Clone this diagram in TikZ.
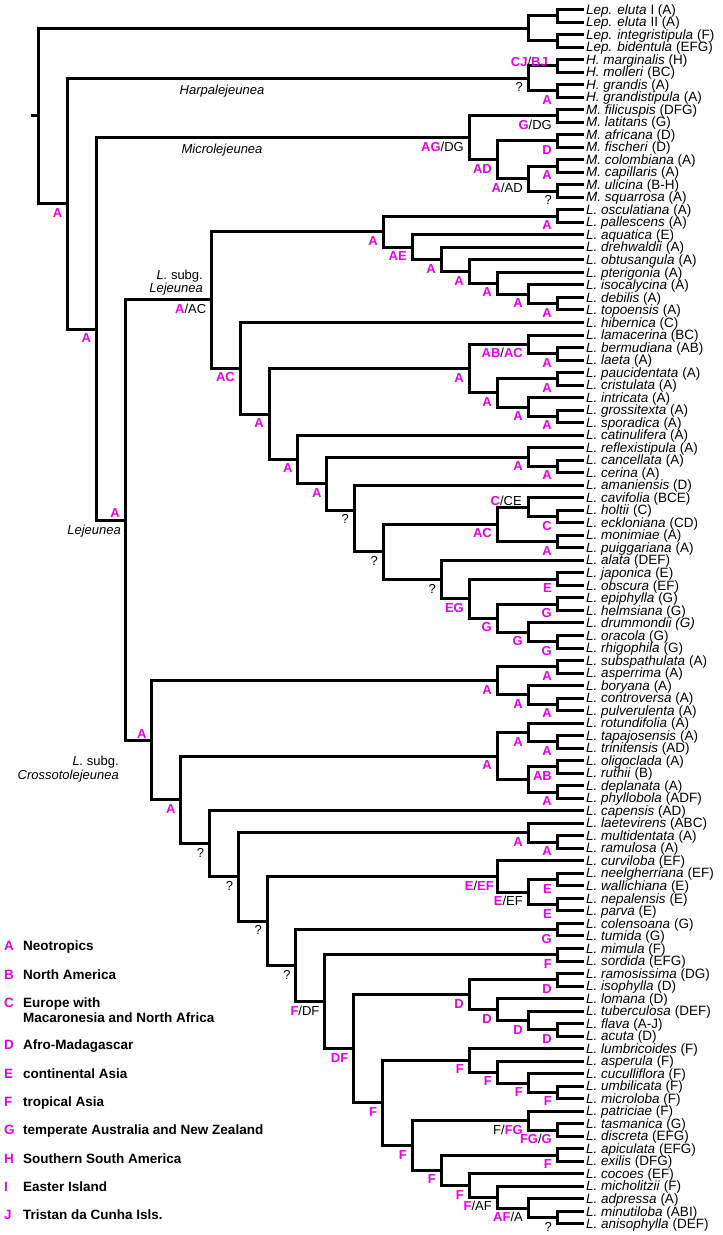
\documentclass[tikz,border=0pt]{standalone}
\usepackage{fontspec}
\setmainfont{Liberation Sans}
\usetikzlibrary{calc}
\definecolor{mag}{RGB}{232,0,232}
\newcommand\mg[1]{\textcolor{mag}{\textbf{#1}}}
\newcommand\tx[2]{\textit{#1} (#2)}
\tikzset{
  br/.style={line width=3pt, line join=miter, line cap=butt},
  leaflab/.style={anchor=base west, inner sep=0pt, font=\fontsize{13.5}{14}\selectfont},
  nlab/.style={anchor=base east, inner sep=0pt, font=\fontsize{13}{14}\selectfont},
  txlab/.style={inner sep=0pt, font=\fontsize{13}{14}\selectfont},
  legl/.style={anchor=base west, inner sep=0pt, font=\fontsize{13.5}{14}\selectfont\bfseries}
}
\newcommand\leaf[2]{\coordinate (t#1) at (584,{9.5+(#1-1)*12.52});
  \node[leaflab] (n#1) at ([shift={(2pt,-4.6pt)}]t#1) {#2};}
\newcommand\mkclade[4]{\coordinate (tmp) at ($(#3)!0.5!(#4)$);
  \coordinate (#1) at (#2,0 |- tmp);
  \draw[br] (#1) |- (#3); \draw[br] (#1) |- (#4);}
\newcommand\mkcladeY[5]{\coordinate (#1) at (#2,#3);
  \draw[br] (#1) |- (#4); \draw[br] (#1) |- (#5);}
\newcommand\lab[2]{\node[nlab] (L#1) at ([shift={(-5pt,-13.5pt)}]#1) {#2};}
\newcommand\labxy[4]{\node[nlab] (L#1) at ([shift={(#2pt,#3pt)}]#1) {#4};}
\begin{document}
\begin{tikzpicture}[x=1pt,y=-1pt]
\fill[white] (0,0) rectangle (723,1235);
\useasboundingbox (0,0) rectangle (723,1235);
% leaves
\leaf{1}{\textit{Lep. eluta} I (A)}
\leaf{2}{\textit{Lep. eluta} II (A)}
\leaf{3}{\tx{Lep. integristipula}{F}}
\leaf{4}{\tx{Lep. bidentula}{EFG}}
\leaf{5}{\tx{H. marginalis}{H}}
\leaf{6}{\tx{H. molleri}{BC}}
\leaf{7}{\tx{H. grandis}{A}}
\leaf{8}{\tx{H. grandistipula}{A}}
\leaf{9}{\tx{M. filicuspis}{DFG}}
\leaf{10}{\tx{M. latitans}{G}}
\leaf{11}{\tx{M. africana}{D}}
\leaf{12}{\tx{M. fischeri}{D}}
\leaf{13}{\tx{M. colombiana}{A}}
\leaf{14}{\tx{M. capillaris}{A}}
\leaf{15}{\tx{M. ulicina}{B-H}}
\leaf{16}{\tx{M. squarrosa}{A}}
\leaf{17}{\tx{L. osculatiana}{A}}
\leaf{18}{\tx{L. pallescens}{A}}
\leaf{19}{\tx{L. aquatica}{E}}
\leaf{20}{\tx{L. drehwaldii}{A}}
\leaf{21}{\tx{L. obtusangula}{A}}
\leaf{22}{\tx{L. pterigonia}{A}}
\leaf{23}{\tx{L. isocalycina}{A}}
\leaf{24}{\tx{L. debilis}{A}}
\leaf{25}{\tx{L. topoensis}{A}}
\leaf{26}{\tx{L. hibernica}{C}}
\leaf{27}{\tx{L. lamacerina}{BC}}
\leaf{28}{\tx{L. bermudiana}{AB}}
\leaf{29}{\tx{L. laeta}{A}}
\leaf{30}{\tx{L. paucidentata}{A}}
\leaf{31}{\tx{L. cristulata}{A}}
\leaf{32}{\tx{L. intricata}{A}}
\leaf{33}{\tx{L. grossitexta}{A}}
\leaf{34}{\tx{L. sporadica}{A}}
\leaf{35}{\tx{L. catinulifera}{A}}
\leaf{36}{\tx{L. reflexistipula}{A}}
\leaf{37}{\tx{L. cancellata}{A}}
\leaf{38}{\tx{L. cerina}{A}}
\leaf{39}{\tx{L. amaniensis}{D}}
\leaf{40}{\tx{L. cavifolia}{BCE}}
\leaf{41}{\tx{L. holtii}{C}}
\leaf{42}{\tx{L. eckloniana}{CD}}
\leaf{43}{\tx{L. monimiae}{A}}
\leaf{44}{\tx{L. puiggariana}{A}}
\leaf{45}{\tx{L. alata}{DEF}}
\leaf{46}{\tx{L. japonica}{E}}
\leaf{47}{\tx{L. obscura}{EF}}
\leaf{48}{\tx{L. epiphylla}{G}}
\leaf{49}{\tx{L. helmsiana}{G}}
\leaf{50}{\textit{L. drummondii (G)}}
\leaf{51}{\tx{L. oracola}{G}}
\leaf{52}{\tx{L. rhigophila}{G}}
\leaf{53}{\tx{L. subspathulata}{A}}
\leaf{54}{\tx{L. asperrima}{A}}
\leaf{55}{\tx{L. boryana}{A}}
\leaf{56}{\tx{L. controversa}{A}}
\leaf{57}{\tx{L. pulverulenta}{A}}
\leaf{58}{\tx{L. rotundifolia}{A}}
\leaf{59}{\tx{L. tapajosensis}{A}}
\leaf{60}{\tx{L. trinitensis}{AD}}
\leaf{61}{\tx{L. oligoclada}{A}}
\leaf{62}{\tx{L. ruthii}{B}}
\leaf{63}{\tx{L. deplanata}{A}}
\leaf{64}{\tx{L. phyllobola}{ADF}}
\leaf{65}{\tx{L. capensis}{AD}}
\leaf{66}{\tx{L. laetevirens}{ABC}}
\leaf{67}{\tx{L. multidentata}{A}}
\leaf{68}{\tx{L. ramulosa}{A}}
\leaf{69}{\tx{L. curviloba}{EF}}
\leaf{70}{\tx{L. neelgherriana}{EF}}
\leaf{71}{\tx{L. wallichiana}{E}}
\leaf{72}{\tx{L. nepalensis}{E}}
\leaf{73}{\tx{L. parva}{E}}
\leaf{74}{\tx{L. colensoana}{G}}
\leaf{75}{\tx{L. tumida}{G}}
\leaf{76}{\tx{L. mimula}{F}}
\leaf{77}{\tx{L. sordida}{EFG}}
\leaf{78}{\tx{L. ramosissima}{DG}}
\leaf{79}{\tx{L. isophylla}{D}}
\leaf{80}{\tx{L. lomana}{D}}
\leaf{81}{\tx{L. tuberculosa}{DEF}}
\leaf{82}{\tx{L. flava}{A-J}}
\leaf{83}{\tx{L. acuta}{D}}
\leaf{84}{\tx{L. lumbricoides}{F}}
\leaf{85}{\tx{L. asperula}{F}}
\leaf{86}{\tx{L. cuculliflora}{F}}
\leaf{87}{\tx{L. umbilicata}{F}}
\leaf{88}{\tx{L. microloba}{F}}
\leaf{89}{\tx{L. patriciae}{F}}
\leaf{90}{\tx{L. tasmanica}{G}}
\leaf{91}{\tx{L. discreta}{EFG}}
\leaf{92}{\tx{L. apiculata}{EFG}}
\leaf{93}{\tx{L. exilis}{DFG}}
\leaf{94}{\tx{L. cocoes}{EF}}
\leaf{95}{\tx{L. micholitzii}{F}}
\leaf{96}{\tx{L. adpressa}{A}}
\leaf{97}{\tx{L. minutiloba}{ABI}}
\leaf{98}{\tx{L. anisophylla}{DEF}}
% Leptolejeunea
\mkclade{lepA}{557}{t1}{t2}
\mkclade{lepB}{557}{t3}{t4}
\mkclade{lep}{528}{lepA}{lepB}
% Harpalejeunea
\mkclade{haA}{557}{t5}{t6}
\mkclade{haB}{557}{t7}{t8}
\mkclade{ha}{528}{haA}{haB}
% Microlejeunea
\mkclade{miA}{557}{t9}{t10}
\mkclade{miB}{557}{t11}{t12}
\mkclade{miC}{557}{t13}{t14}
\mkclade{miD}{557}{t15}{t16}
\mkclade{miE}{528}{miC}{miD}
\mkclade{miF}{497}{miB}{miE}
\mkclade{mi}{469}{miA}{miF}
% subg. Lejeunea
\mkclade{a1}{557}{t17}{t18}
\mkclade{a2}{557}{t24}{t25}
\mkclade{a3}{528}{t23}{a2}
\mkclade{a4}{497}{t22}{a3}
\mkclade{a5}{469}{t21}{a4}
\mkclade{a6}{441}{t20}{a5}
\mkclade{a7}{412}{t19}{a6}
\mkclade{a8}{383}{a1}{a7}
\mkclade{b1}{557}{t28}{t29}
\mkclade{b2}{528}{t27}{b1}
\mkclade{b3}{557}{t30}{t31}
\mkclade{b4}{557}{t33}{t34}
\mkclade{b5}{528}{t32}{b4}
\mkclade{b6}{497}{b3}{b5}
\mkclade{b7}{469}{b2}{b6}
\mkclade{c1}{557}{t37}{t38}
\mkclade{c2}{528}{t36}{c1}
\mkclade{d1}{557}{t41}{t42}
\mkclade{d2}{528}{t40}{d1}
\mkclade{d3}{557}{t43}{t44}
\mkclade{d4}{497}{d2}{d3}
\mkclade{e1}{557}{t46}{t47}
\mkclade{e2}{557}{t48}{t49}
\mkclade{e3}{557}{t51}{t52}
\mkclade{e4}{528}{t50}{e3}
\mkclade{e5}{497}{e2}{e4}
\mkclade{e6}{469}{e1}{e5}
\mkclade{e7}{441}{t45}{e6}
\mkclade{f6}{383}{d4}{e7}
\mkcladeY{f7}{354}{510}{t39}{f6}
\mkclade{f8}{326.6}{c2}{f7}
\mkclade{f9}{297.8}{t35}{f8}
\mkclade{f10}{269}{b7}{f9}
\mkclade{f11}{240}{t26}{f10}
\mkclade{f12}{211.4}{a8}{f11}
% subg. Crossotolejeunea
\mkclade{g1}{557}{t53}{t54}
\mkclade{g2}{557}{t56}{t57}
\mkclade{g3}{528}{t55}{g2}
\mkclade{g4}{497}{g1}{g3}
\mkclade{h1}{557}{t59}{t60}
\mkclade{h2}{528}{t58}{h1}
\mkclade{h3}{557}{t61}{t62}
\mkclade{h4}{557}{t63}{t64}
\mkclade{h5}{528}{h3}{h4}
\mkclade{h6}{497}{h2}{h5}
\mkclade{i1}{557}{t67}{t68}
\mkclade{i2}{528}{t66}{i1}
\mkclade{j1}{557}{t70}{t71}
\mkclade{j2}{557}{t72}{t73}
\mkclade{j3}{528}{j1}{j2}
\mkclade{j4}{497}{t69}{j3}
\mkclade{k1}{557}{t74}{t75}
\mkclade{k2}{557}{t76}{t77}
\mkclade{m1}{557}{t78}{t79}
\mkclade{m2}{557}{t82}{t83}
\mkclade{m3}{528}{t81}{m2}
\mkclade{m4}{497}{t80}{m3}
\mkclade{m5}{469}{m1}{m4}
\mkclade{n1}{557}{t87}{t88}
\mkclade{n2}{528}{t86}{n1}
\mkclade{n3}{497}{t85}{n2}
\mkclade{n4}{469}{t84}{n3}
\mkclade{p1}{557}{t90}{t91}
\mkclade{p2}{528}{t89}{p1}
\mkclade{p3}{557}{t92}{t93}
\mkclade{p4}{557}{t97}{t98}
\mkclade{p5}{528}{t96}{p4}
\mkclade{p6}{497}{t95}{p5}
\mkclade{p7}{469}{t94}{p6}
\mkclade{p8}{441}{p3}{p7}
\mkclade{p9}{412}{p2}{p8}
\mkclade{C8}{382.2}{n4}{p9}
\mkclade{C7}{353.4}{m5}{C8}
\mkclade{C6}{324.6}{k2}{C7}
\mkclade{C5}{295.8}{k1}{C6}
\mkclade{C4}{267}{j4}{C5}
\mkclade{C3}{238.2}{i2}{C4}
\mkclade{C2}{209.4}{t65}{C3}
\mkclade{C1}{180.6}{h6}{C2}
\mkclade{C0}{151.8}{g4}{C1}
% backbone
\mkclade{lej}{125}{f12}{C0}
\mkclade{Y}{96.2}{mi}{lej}
\mkclade{X}{67.4}{ha}{Y}
\mkclade{root}{38.6}{lep}{X}
\coordinate (rs) at (31,0 |- root);
\draw[br] (rs) -- (root);
% node labels
\labxy{haA}{-9}{-0.7}{\mg{CJ}/\mg{BJ}}
\lab{haB}{\mg{A}} \lab{ha}{?}
\lab{miA}{\mg{G}/DG} \lab{miB}{\mg{D}} \lab{miC}{\mg{A}} \lab{miD}{?}
\lab{miE}{\mg{A}/AD} \lab{miF}{\mg{AD}} \lab{mi}{\mg{AG}/DG}
\lab{a1}{\mg{A}} \lab{a2}{\mg{A}} \lab{a3}{\mg{A}} \lab{a4}{\mg{A}}
\lab{a5}{\mg{A}} \lab{a6}{\mg{A}} \lab{a7}{\mg{AE}} \lab{a8}{\mg{A}}
\lab{b1}{\mg{A}} \lab{b2}{\mg{AB}/\mg{AC}} \lab{b3}{\mg{A}} \lab{b4}{\mg{A}}
\lab{b5}{\mg{A}} \lab{b6}{\mg{A}} \lab{b7}{\mg{A}}
\lab{c1}{\mg{A}} \lab{c2}{\mg{A}}
\lab{d1}{\mg{C}} \labxy{d2}{-6}{1.4}{\mg{C}/CE} \lab{d3}{\mg{A}} \lab{d4}{\mg{AC}}
\lab{e1}{\mg{E}} \lab{e2}{\mg{G}} \lab{e3}{\mg{G}} \lab{e4}{\mg{G}}
\lab{e5}{\mg{G}} \lab{e6}{\mg{EG}} \lab{e7}{?}
\lab{f6}{?} \lab{f7}{?} \lab{f8}{\mg{A}} \lab{f9}{\mg{A}} \lab{f10}{\mg{A}}
\lab{f11}{\mg{AC}} \lab{f12}{\mg{A}/AC}
\lab{g1}{\mg{A}} \lab{g2}{\mg{A}} \lab{g3}{\mg{A}} \lab{g4}{\mg{A}}
\lab{h1}{\mg{A}} \lab{h2}{\mg{A}} \lab{h3}{\mg{AB}} \lab{h4}{\mg{A}} \lab{h6}{\mg{A}}
\lab{i1}{\mg{A}} \lab{i2}{\mg{A}}
\lab{j1}{\mg{E}} \lab{j2}{\mg{E}} \lab{j3}{\mg{E}/EF} \labxy{j4}{-3}{-13.5}{\mg{E}/\mg{EF}}
\lab{k1}{\mg{G}} \lab{k2}{\mg{F}}
\lab{m1}{\mg{D}} \lab{m2}{\mg{D}} \lab{m3}{\mg{D}} \lab{m4}{\mg{D}} \lab{m5}{\mg{D}}
\lab{n1}{\mg{F}} \lab{n2}{\mg{F}} \lab{n3}{\mg{F}} \lab{n4}{\mg{F}}
\lab{p1}{\mg{FG}/\mg{G}} \lab{p2}{F/\mg{FG}} \lab{p3}{\mg{F}} \lab{p4}{?}
\lab{p5}{\mg{AF}/A} \lab{p6}{\mg{F}/AF} \lab{p7}{\mg{F}} \lab{p8}{\mg{F}} \lab{p9}{\mg{F}}
\lab{C8}{\mg{F}} \lab{C7}{\mg{DF}} \lab{C6}{\mg{F}/DF}
\lab{C5}{?} \lab{C4}{?} \lab{C3}{?} \lab{C2}{?}
\lab{C1}{\mg{A}} \labxy{C0}{-5}{2.4}{\mg{A}}
\labxy{lej}{-5}{2.4}{\mg{A}}
\lab{Y}{\mg{A}} \lab{X}{\mg{A}}
% clade names
\node[txlab, anchor=center] (tHa) at (222,91) {\textit{Harpalejeunea}};
\node[txlab, anchor=center] (tMi) at (222,150) {\textit{Microlejeunea}};
\node[txlab, anchor=base east] (tLs1) at (203,279.6) {\textit{L.} subg.};
\node[txlab, anchor=base east] (tLs2) at (203,292.6) {\textit{Lejeunea}};
\node[txlab, anchor=base east] (tLej) at (121,534.6) {\textit{Lejeunea}};
\node[txlab, anchor=base east] (tCr1) at (119,765) {\textit{L.} subg.};
\node[txlab, anchor=base east] (tCr2) at (119,779) {\textit{Crossotolejeunea}};
% legend
\node[legl] (kA) at (4,950) {\textcolor{mag}{A}};
\node[legl] (vA) at (23,950) {Neotropics};
\node[legl] (kB) at (4,979) {\textcolor{mag}{B}};
\node[legl] (vB) at (23,979) {North America};
\node[legl] (kC) at (4,1007) {\textcolor{mag}{C}};
\node[legl] (vC) at (23,1007) {Europe with};
\node[legl] (vC2) at (23,1022) {Macaronesia and North Africa};
\node[legl] (kD) at (4,1049) {\textcolor{mag}{D}};
\node[legl] (vD) at (23,1049) {Afro-Madagascar};
\node[legl] (kE) at (4,1078) {\textcolor{mag}{E}};
\node[legl] (vE) at (23,1078) {continental Asia};
\node[legl] (kF) at (4,1106) {\textcolor{mag}{F}};
\node[legl] (vF) at (23,1106) {tropical Asia};
\node[legl] (kG) at (4,1134) {\textcolor{mag}{G}};
\node[legl] (vG) at (23,1134) {temperate Australia and New Zealand};
\node[legl] (kH) at (4,1163) {\textcolor{mag}{H}};
\node[legl] (vH) at (23,1163) {Southern South America};
\node[legl] (kI) at (4,1191) {\textcolor{mag}{I}};
\node[legl] (vI) at (23,1191) {Easter Island};
\node[legl] (kJ) at (4,1219) {\textcolor{mag}{J}};
\node[legl] (vJ) at (23,1219) {Tristan da Cunha Isls.};
\end{tikzpicture}
\end{document}
